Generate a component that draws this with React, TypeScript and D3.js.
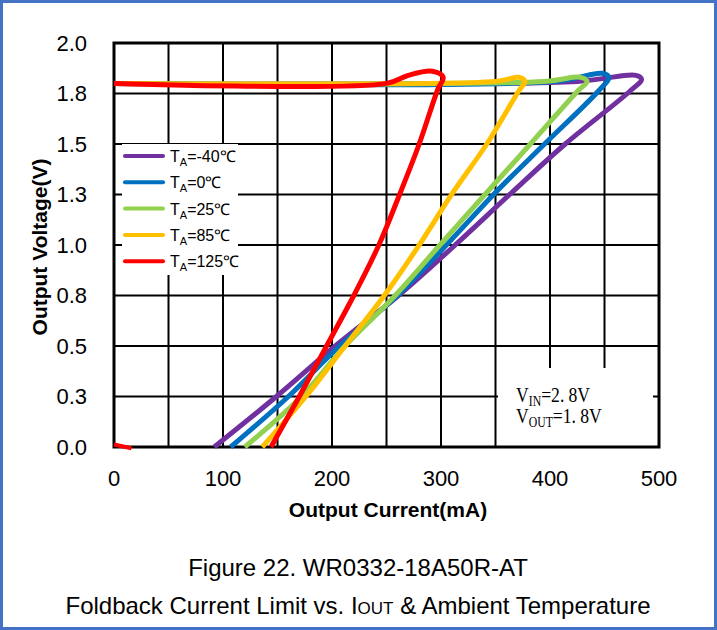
import React from "react";
import * as d3 from "d3";

const xTicks = [0, 100, 200, 300, 400, 500];
const yTickValues = [0, 0.25, 0.5, 0.75, 1.0, 1.25, 1.5, 1.75, 2.0];
const yTickLabels = ["0.0", "0.3", "0.5", "0.8", "1.0", "1.3", "1.5", "1.8", "2.0"];

const seriesNames = ["-40℃", "0℃", "25℃", "85℃", "125℃"];
const seriesColors = ["#7030A0", "#0070C0", "#92D050", "#FFC000", "#FF0000"];

// Output current (mA) along each curve, in path order
const curM40 = [0, 425, 479, 484, 473, 414, 365, 313, 261, 203, 149, 92];
const volM40 = [1.80, 1.81, 1.84, 1.82, 1.76, 1.50, 1.26, 1.00, 0.75, 0.50, 0.25, 0];
const cur0 = [0, 405, 448, 454, 444, 395, 350, 305, 260, 207, 160, 107];
const vol0 = [1.80, 1.81, 1.85, 1.83, 1.76, 1.50, 1.26, 1.00, 0.75, 0.50, 0.25, 0];
const cur25 = [0, 395, 428, 434, 425, 382, 342, 299, 258, 212, 172, 120];
const vol25 = [1.80, 1.81, 1.83, 1.81, 1.76, 1.50, 1.26, 1.00, 0.75, 0.50, 0.25, 0];
const cur85 = [0, 350, 372, 377, 371, 342, 311, 280, 248, 212, 176, 136];
const vol85 = [1.80, 1.81, 1.83, 1.81, 1.76, 1.50, 1.26, 1.00, 0.75, 0.50, 0.25, 0];
const cur125 = [0, 250, 270, 292, 302, 297, 280, 262, 243, 220, 195, 170, 144];
const vol125 = [1.80, 1.80, 1.84, 1.86, 1.83, 1.77, 1.50, 1.25, 1.00, 0.75, 0.50, 0.25, 0];
const cur125Start = [0, 16];
const vol125Start = [0.012, -0.006];

const currents = [curM40, cur0, cur25, cur85, cur125];
const voltages = [volM40, vol0, vol25, vol85, vol125];

const W = 717;
const H = 630;

export default function App() {
  const x = d3.scaleLinear().domain([0, 500]).range([114, 659]);
  const y = d3.scaleLinear().domain([0, 2]).range([447, 43]);
  const line = d3
    .line<[number, number]>()
    .x((d) => x(d[0]))
    .y((d) => y(d[1]))
    .curve(d3.curveCatmullRom.alpha(0.5));
  const straight = d3
    .line<[number, number]>()
    .x((d) => x(d[0]))
    .y((d) => y(d[1]));

  const gridX = d3.range(50, 500, 50);
  const font = "'Liberation Sans', Arial, sans-serif";

  return (
    <svg
      width={W}
      height={H}
      style={{ position: "absolute", left: 0, top: 0 }}
      fontFamily={font}
    >
      <rect x={1.5} y={1.5} width={W - 3} height={H - 3} fill="#fff" stroke="#4472C4" strokeWidth={3} />

      {/* grid */}
      {gridX.map((v) => (
        <line key={"gx" + v} x1={x(v)} x2={x(v)} y1={y(0)} y2={y(2)} stroke="#000" strokeWidth={2} />
      ))}
      {yTickValues.slice(1, -1).map((v) => (
        <line key={"gy" + v} x1={x(0)} x2={x(500)} y1={y(v)} y2={y(v)} stroke="#000" strokeWidth={2} />
      ))}

      {/* legend background */}
      <rect x={122} y={144} width={116} height={131} fill="#fff" />
      {/* annotation box */}
      <rect x={498} y={368} width={155} height={78} fill="#fff" />

      {/* frame */}
      <rect x={x(0)} y={y(2)} width={x(500) - x(0)} height={y(0) - y(2)} fill="none" stroke="#000" strokeWidth={3} />

      {/* curves */}
      {currents.map((cs, i) => (
        <path
          key={"c" + i}
          d={line(cs.map((c, j) => [c, voltages[i][j]] as [number, number])) || ""}
          fill="none"
          stroke={seriesColors[i]}
          strokeWidth={5}
          strokeLinejoin="round"
        />
      ))}
      <path
        d={straight(cur125Start.map((c, j) => [c, vol125Start[j]] as [number, number])) || ""}
        fill="none"
        stroke={seriesColors[4]}
        strokeWidth={4}
      />

      {/* y ticks */}
      {yTickValues.map((v, i) => (
        <text key={"yt" + v} x={87} y={y(v)} dy="0.35em" textAnchor="end" fontSize={22} fill="#000">
          {yTickLabels[i]}
        </text>
      ))}
      {/* x ticks */}
      {xTicks.map((v) => (
        <text key={"xt" + v} x={x(v)} y={478} dy="0.35em" textAnchor="middle" fontSize={22} fill="#000">
          {v}
        </text>
      ))}

      <text x={388} y={517} textAnchor="middle" fontSize={21} fontWeight="bold" fill="#000">
        Output Current(mA)
      </text>
      <text
        transform="translate(47,247) rotate(-90)"
        textAnchor="middle"
        fontSize={21}
        fontWeight="bold"
        fill="#000"
      >
        Output Voltage(V)
      </text>

      {/* legend */}
      {seriesNames.map((n, i) => {
        const ly = 156 + i * 26.3;
        return (
          <g key={"lg" + i}>
            <line x1={125} x2={163} y1={ly} y2={ly} stroke={seriesColors[i]} strokeWidth={4} strokeLinecap="round" />
            <text x={170} y={ly + 6} fontSize={16} fill="#000">
              T
              <tspan fontSize={11} dy={4}>A</tspan>
              <tspan dy={-4}>{"=" + n}</tspan>
            </text>
          </g>
        );
      })}

      {/* annotation */}
      <g transform="translate(516,402) scale(0.84,1)" fontFamily="'Liberation Serif', 'DejaVu Serif', serif" fill="#000">
        <text x={0} y={0} fontSize={21}>
          V<tspan fontSize={14} dy={4}>IN</tspan>
          <tspan dy={-4}>=2.</tspan>
          <tspan dx={5}>8V</tspan>
        </text>
        <text x={0} y={21} fontSize={21}>
          V<tspan fontSize={14} dy={4}>OUT</tspan>
          <tspan dy={-4}>=1.</tspan>
          <tspan dx={5}>8V</tspan>
        </text>
      </g>

      {/* caption */}
      <text x={358} y={576} textAnchor="middle" fontSize={24} fill="#000">
        Figure 22. WR0332-18A50R-AT
      </text>
      <text x={358} y={614} textAnchor="middle" fontSize={24} fill="#000">
        Foldback Current Limit vs. I<tspan fontSize={17}>OUT</tspan> &amp; Ambient Temperature
      </text>
    </svg>
  );
}
